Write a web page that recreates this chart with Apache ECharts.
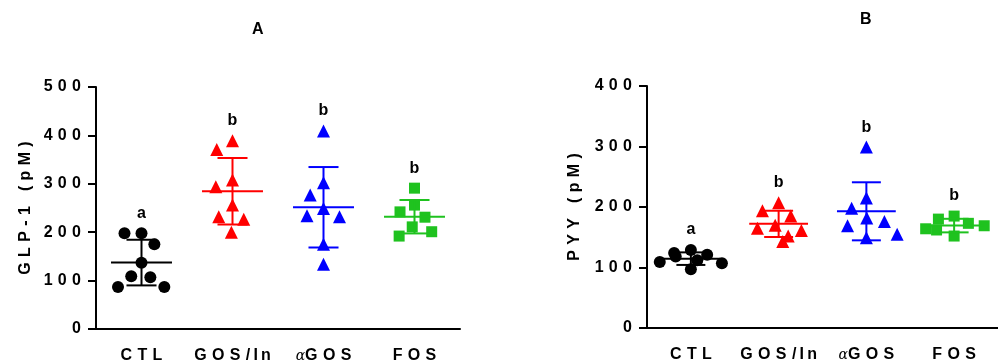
<!DOCTYPE html>
<html>
<head>
<meta charset="utf-8">
<script src="https://cdn.jsdelivr.net/npm/echarts@6/dist/echarts.min.js"></script>
<style>
html,body{margin:0;padding:0;background:#fff;}
#chart{width:998px;height:364px;}
</style>
</head>
<body>
<div id="chart"></div>
<script>
// groups on the x axis
var groups = ['CTL', 'GOS/In', 'αGOS', 'FOS'];

// panel A : GLP-1 (pM)
var glpCTL = [198, 198, 175, 137, 109, 107, 87, 87];
var glpGOSIn = [389, 371, 308, 294, 256, 232, 227, 200];
var glpAGOS = [409, 302, 277, 249, 234, 232, 175, 134];
var glpFOS = [291, 256, 242, 231, 211, 201, 192];
var glpLetters = ['a', 'b', 'b', 'b'];
var glpTicks = [0, 100, 200, 300, 400, 500];

// panel B : PYY (pM)
var pyyCTL = [129, 124, 121, 118, 112, 109, 107, 97];
var pyyGOSIn = [207, 194, 185, 170, 165, 161, 152, 143];
var pyyAGOS = [299, 215, 198, 182, 176, 169, 155, 149];
var pyyFOS = [185, 180, 173, 169, 164, 162, 152];
var pyyLetters = ['a', 'b', 'b', 'b'];
var pyyTicks = [0, 100, 200, 300, 400];

var colors = ['#000000', '#ff0000', '#0000ff', '#1fc21f'];
var symbols = ['circle', 'triangle', 'triangle', 'rect'];
var symbolSizes = [12, 13, 13, 11];

var FONT = '"Liberation Sans", Arial, sans-serif';
var SP = '\u2004';

function spaced(s, sp) {
    return String(s).split('').join(sp || SP);
}

function stats(arr) {
    var n = arr.length, sum = 0, i;
    for (i = 0; i < n; i++) sum += arr[i];
    var mean = sum / n, ss = 0;
    for (i = 0; i < n; i++) ss += (arr[i] - mean) * (arr[i] - mean);
    var sd = Math.sqrt(ss / (n - 1));
    return {mean: mean, sd: sd, max: Math.max.apply(null, arr)};
}

function scatterSeries(panel, values, i) {
    return {
        type: 'scatter',
        xAxisIndex: panel,
        yAxisIndex: panel,
        symbol: symbols[i],
        symbolSize: symbolSizes[i],
        itemStyle: {color: colors[i], opacity: 1},
        emphasis: {disabled: true},
        z: 2,
        data: values.map(function (v) { return [i, v]; })
    };
}

function statsSeries(panel, sets, letters) {
    var data = sets.map(function (arr, i) {
        var s = stats(arr);
        return [i, s.mean, s.mean - s.sd, s.mean + s.sd, s.max];
    });
    return {
        type: 'custom',
        xAxisIndex: panel,
        yAxisIndex: panel,
        z: 5,
        silent: true,
        data: data,
        renderItem: function (params, api) {
            var idx = api.value(0);
            var band = api.size([1, 0])[0];
            var m = api.coord([idx, api.value(1)]);
            var lo = api.coord([idx, api.value(2)]);
            var hi = api.coord([idx, api.value(3)]);
            var top = api.coord([idx, api.value(4)]);
            var col = colors[idx];
            var st = {stroke: col, lineWidth: 2};
            var half = band * 0.335, cap = band * 0.165;
            return {
                type: 'group',
                children: [
                    {type: 'line', shape: {x1: m[0] - half, y1: m[1], x2: m[0] + half, y2: m[1]}, style: st},
                    {type: 'line', shape: {x1: m[0], y1: lo[1], x2: m[0], y2: hi[1]}, style: st},
                    {type: 'line', shape: {x1: m[0] - cap, y1: lo[1], x2: m[0] + cap, y2: lo[1]}, style: st},
                    {type: 'line', shape: {x1: m[0] - cap, y1: hi[1], x2: m[0] + cap, y2: hi[1]}, style: st},
                    {type: 'text', style: {
                        text: letters[idx], x: m[0], y: top[1] - 20,
                        align: 'center', verticalAlign: 'middle',
                        font: 'bold 16px ' + FONT, fill: '#000'
                    }}
                ]
            };
        }
    };
}

function catLabel(v) {
    if (v === 'αGOS') return '{al|α}' + spaced('GOS');
    if (v === 'GOS/In') return spaced('GOS') + SP + spaced('/In', '\u2009');
    return spaced(v);
}

function xAxisFor(panel) {
    return {
        type: 'category',
        gridIndex: panel,
        data: groups,
        boundaryGap: true,
        jitter: 64,
        jitterOverlap: false,
        jitterMargin: 5,
        axisLine: {lineStyle: {color: '#000', width: 2}},
        axisTick: {alignWithLabel: true, length: 7, lineStyle: {color: '#000', width: 2}},
        axisLabel: {
            interval: 0,
            hideOverlap: false,
            margin: 19,
            color: '#000',
            fontFamily: FONT,
            fontWeight: 'bold',
            fontSize: 16,
            formatter: catLabel,
            rich: {al: {fontFamily: '"DejaVu Serif", serif', fontStyle: 'italic', fontSize: 14, fontWeight: 'normal', color: '#000'}}
        },
        splitLine: {show: false}
    };
}

function yAxisFor(panel, ticks, name, gap) {
    return {
        type: 'value',
        gridIndex: panel,
        min: ticks[0],
        max: ticks[ticks.length - 1],
        interval: ticks[1] - ticks[0],
        name: spaced(name),
        nameLocation: 'middle',
        nameGap: gap,
        nameTextStyle: {color: '#000', fontFamily: FONT, fontWeight: 'bold', fontSize: 16},
        axisLine: {show: true, lineStyle: {color: '#000', width: 2}},
        axisTick: {show: true, length: 8, lineStyle: {color: '#000', width: 2}},
        axisLabel: {
            margin: 15,
            color: '#000',
            fontFamily: FONT,
            fontWeight: 'bold',
            fontSize: 16,
            formatter: function (v) { return spaced(v); }
        },
        splitLine: {show: false}
    };
}

var chart = echarts.init(document.getElementById('chart'));

var option = {
    animation: false,
    backgroundColor: '#fff',
    title: [
        {text: 'A', left: 252, top: 22, padding: 0, textStyle: {fontFamily: FONT, fontWeight: 'bold', fontSize: 16, color: '#000'}},
        {text: 'B', left: 860, top: 12, padding: 0, textStyle: {fontFamily: FONT, fontWeight: 'bold', fontSize: 16, color: '#000'}}
    ],
    grid: [
        {left: 96, top: 87, width: 364, bottom: 35},
        {left: 647, top: 86, width: 363, bottom: 36}
    ],
    xAxis: [xAxisFor(0), xAxisFor(1)],
    yAxis: [
        yAxisFor(0, glpTicks, 'GLP-1 (pM)', 62),
        yAxisFor(1, pyyTicks, 'PYY (pM)', 64)
    ],
    series: [
        scatterSeries(0, glpCTL, 0),
        scatterSeries(0, glpGOSIn, 1),
        scatterSeries(0, glpAGOS, 2),
        scatterSeries(0, glpFOS, 3),
        statsSeries(0, [glpCTL, glpGOSIn, glpAGOS, glpFOS], glpLetters),
        scatterSeries(1, pyyCTL, 0),
        scatterSeries(1, pyyGOSIn, 1),
        scatterSeries(1, pyyAGOS, 2),
        scatterSeries(1, pyyFOS, 3),
        statsSeries(1, [pyyCTL, pyyGOSIn, pyyAGOS, pyyFOS], pyyLetters)
    ]
};

chart.setOption(option);
</script>
</body>
</html>
